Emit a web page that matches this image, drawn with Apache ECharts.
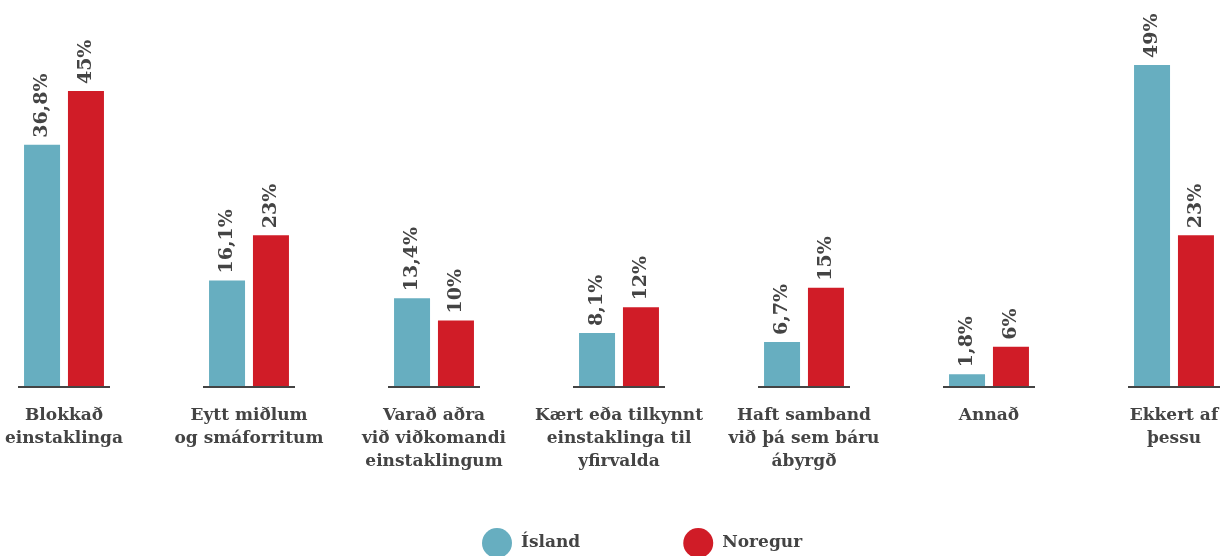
<!DOCTYPE html>
<html><head><meta charset="utf-8">
<script src="https://cdn.jsdelivr.net/npm/echarts@6/dist/echarts.min.js"></script>
<style>html,body{margin:0;padding:0;background:#fff}#c{width:1227px;height:556px}</style>
</head><body><div id="c"></div>
<script>
const categories = ["Blokkað\neinstaklinga","Eytt miðlum\nog smáforritum","Varað aðra\nvið viðkomandi\neinstaklingum","Kært eða tilkynnt\neinstaklinga til\nyfirvalda","Haft samband\nvið þá sem báru\nábyrgð","Annað","Ekkert af\nþessu"];
const island = [36.8, 16.1, 13.4, 8.1, 6.7, 1.8, 49];
const noregur = [45, 23, 10, 12, 15, 6, 23];
const seriesNames = ["Ísland","Noregur"];

const FONT = "DejaVu Serif";
const chart = echarts.init(document.getElementById('c'));
const fmt = p => String(p.value).replace('.', ',') + '%';
const lbl = {show:true, position:'top', rotate:90, align:'left', verticalAlign:'middle', distance:7,
  fontFamily:FONT, fontWeight:'bold', fontSize:19, color:'#444', formatter:fmt};
chart.setOption({
  animation:false,
  grid:{left:-28.5, width:1295, top:0, height:386, containLabel:false, outerBoundsMode:'none'},
  legend:{top:523, left:477, itemWidth:30, itemHeight:30, itemGap:103, icon:'circle',
    data:seriesNames, textStyle:{fontFamily:FONT, fontWeight:'bold', fontSize:17, color:'#444', padding:[0,0,0,4]}},
  xAxis:{type:'category', data:categories, axisLine:{show:false}, axisTick:{show:false},
    axisLabel:{interval:0, margin:18, fontFamily:FONT, fontWeight:'bold', fontSize:17, color:'#444', lineHeight:23, verticalAlign:'top'}},
  yAxis:{type:'value', min:0, max:58.9, show:false, splitLine:{show:false}},
  series:[
    {name:seriesNames[0], type:'bar', data:island, barWidth:36, barGap:'22%', itemStyle:{color:'#67aec0'}, label:lbl},
    {name:seriesNames[1], type:'bar', data:noregur, barWidth:36, barGap:'22%', itemStyle:{color:'#d01c27'}, label:lbl},
    {type:'custom', silent:true, data:categories.map((c,i)=>[i,0]), z:5,
      renderItem:(params, api)=>{
        const p = api.coord([api.value(0), 0]);
        return {type:'line', shape:{x1:p[0]-46, y1:p[1]+1, x2:p[0]+46, y2:p[1]+1}, style:{stroke:'#444', lineWidth:2}};
      }}
  ]
});
</script></body></html>
